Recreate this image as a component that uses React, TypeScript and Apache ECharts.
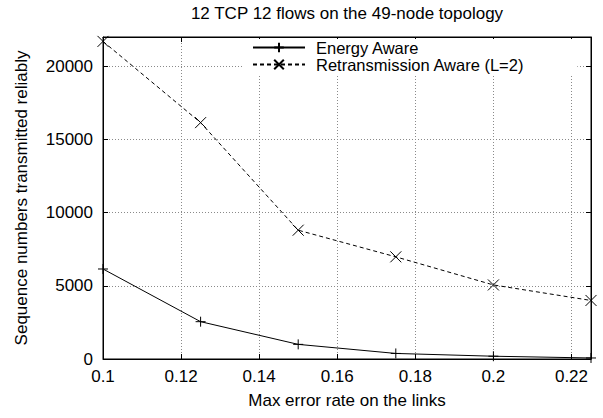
import React, { useEffect, useRef } from "react";
import * as echarts from "echarts";

const errorRates = [0.1, 0.125, 0.15, 0.175, 0.2, 0.225];
const energyAware = [6150, 2550, 1000, 380, 190, 70];
const retransAware = [21700, 16150, 8800, 6980, 5060, 4000];
const seriesNames = ["Energy Aware", "Retransmission Aware (L=2)"];

const FONT = "'Liberation Sans', Arial, Helvetica, sans-serif";
const FS = 17;

export default function App() {
  const ref = useRef<HTMLDivElement>(null);
  useEffect(() => {
    if (!ref.current) return;
    const chart = echarts.init(ref.current, undefined, { renderer: "svg" });
    const plusPath = "path://M5,0L5,10M0,5L10,5";
    const crossPath = "path://M0,0L10,10M10,0L0,10";
    const xCommon = {
      type: "value" as const,
      min: 0.1,
      max: 0.225,
      interval: 0.02,
    };
    const yCommon = {
      type: "value" as const,
      min: 0,
      max: 22000,
      interval: 5000,
    };
    const gridLine = { show: true, lineStyle: { color: "#8a8a8a", type: [1, 2], width: 1 } };
    chart.setOption({
      animation: false,
      backgroundColor: "#fff",
      textStyle: { fontFamily: FONT, color: "#000" },
      graphic: [
        {
          type: "text",
          x: 347,
          y: 13,
          style: {
            text: "12 TCP 12 flows on the 49-node topology",
            fontSize: FS,
            fontFamily: FONT,
            fill: "#000",
            textAlign: "center",
            textVerticalAlign: "middle",
          },
        },
      ],
      grid: {
        left: 103,
        right: 12,
        top: 37,
        bottom: 59,
        show: true,
        borderColor: "#000",
        borderWidth: 1,
      },
      legend: {
        data: seriesNames,
        orient: "vertical",
        left: 242,
        top: 39,
        padding: [0, 53, 1, 10],
        backgroundColor: "#fff",
        itemWidth: 52,
        itemHeight: 12,
        itemGap: 0,
        textStyle: {
          fontSize: 16.5,
          fontFamily: FONT,
          color: "#000",
          lineHeight: 14,
          padding: [0, 0, 0, 6],
        },
      },
      xAxis: [
        {
          ...xCommon,
          position: "bottom",
          name: "Max error rate on the links",
          nameLocation: "middle",
          nameGap: 33,
          nameTextStyle: { fontSize: FS, fontFamily: FONT, color: "#000" },
          axisLine: { show: true, onZero: false, lineStyle: { color: "#000", width: 1 } },
          axisTick: { show: true, inside: true, length: 5, lineStyle: { color: "#000" } },
          axisLabel: { fontSize: FS, fontFamily: FONT, color: "#000", margin: 9, showMaxLabel: false },
          splitLine: gridLine,
        },
        {
          ...xCommon,
          position: "top",
          axisLine: { show: true, onZero: false, lineStyle: { color: "#000", width: 1 } },
          axisTick: { show: true, inside: true, length: 5, lineStyle: { color: "#000" } },
          axisLabel: { show: false },
          splitLine: { show: false },
        },
      ],
      yAxis: [
        {
          ...yCommon,
          position: "left",
          name: "Sequence numbers transmitted reliably",
          nameLocation: "middle",
          nameGap: 73,
          nameTextStyle: { fontSize: FS, fontFamily: FONT, color: "#000" },
          axisLine: { show: true, onZero: false, lineStyle: { color: "#000", width: 1 } },
          axisTick: { show: true, inside: true, length: 5, lineStyle: { color: "#000" } },
          axisLabel: {
            fontSize: FS,
            fontFamily: FONT,
            color: "#000",
            margin: 10,
            showMaxLabel: false,
            formatter: (v: number) => String(v),
          },
          splitLine: gridLine,
        },
        {
          ...yCommon,
          position: "right",
          axisLine: { show: true, onZero: false, lineStyle: { color: "#000", width: 1 } },
          axisTick: { show: true, inside: true, length: 5, lineStyle: { color: "#000" } },
          axisLabel: { show: false },
          splitLine: { show: false },
        },
      ],
      series: [
        {
          name: seriesNames[0],
          type: "line",
          xAxisIndex: 0,
          yAxisIndex: 0,
          data: errorRates.map((x, i) => [x, energyAware[i]]),
          symbol: plusPath,
          symbolSize: 10,
          showAllSymbol: true,
          itemStyle: { color: "rgba(0,0,0,0)", borderColor: "#000", borderWidth: 1 },
          lineStyle: { color: "#000", width: 1, type: "solid" },
          z: 3,
        },
        {
          name: seriesNames[1],
          type: "line",
          xAxisIndex: 0,
          yAxisIndex: 0,
          data: errorRates.map((x, i) => [x, retransAware[i]]),
          symbol: crossPath,
          symbolSize: 11,
          showAllSymbol: true,
          itemStyle: { color: "rgba(0,0,0,0)", borderColor: "#000", borderWidth: 1 },
          lineStyle: { color: "#000", width: 1, type: [4, 3] },
          z: 3,
        },
      ],
    });
    return () => chart.dispose();
  }, []);
  return (
    <div
      ref={ref}
      style={{ position: "fixed", left: 0, top: 0, width: 603, height: 418, background: "#fff" }}
    />
  );
}
